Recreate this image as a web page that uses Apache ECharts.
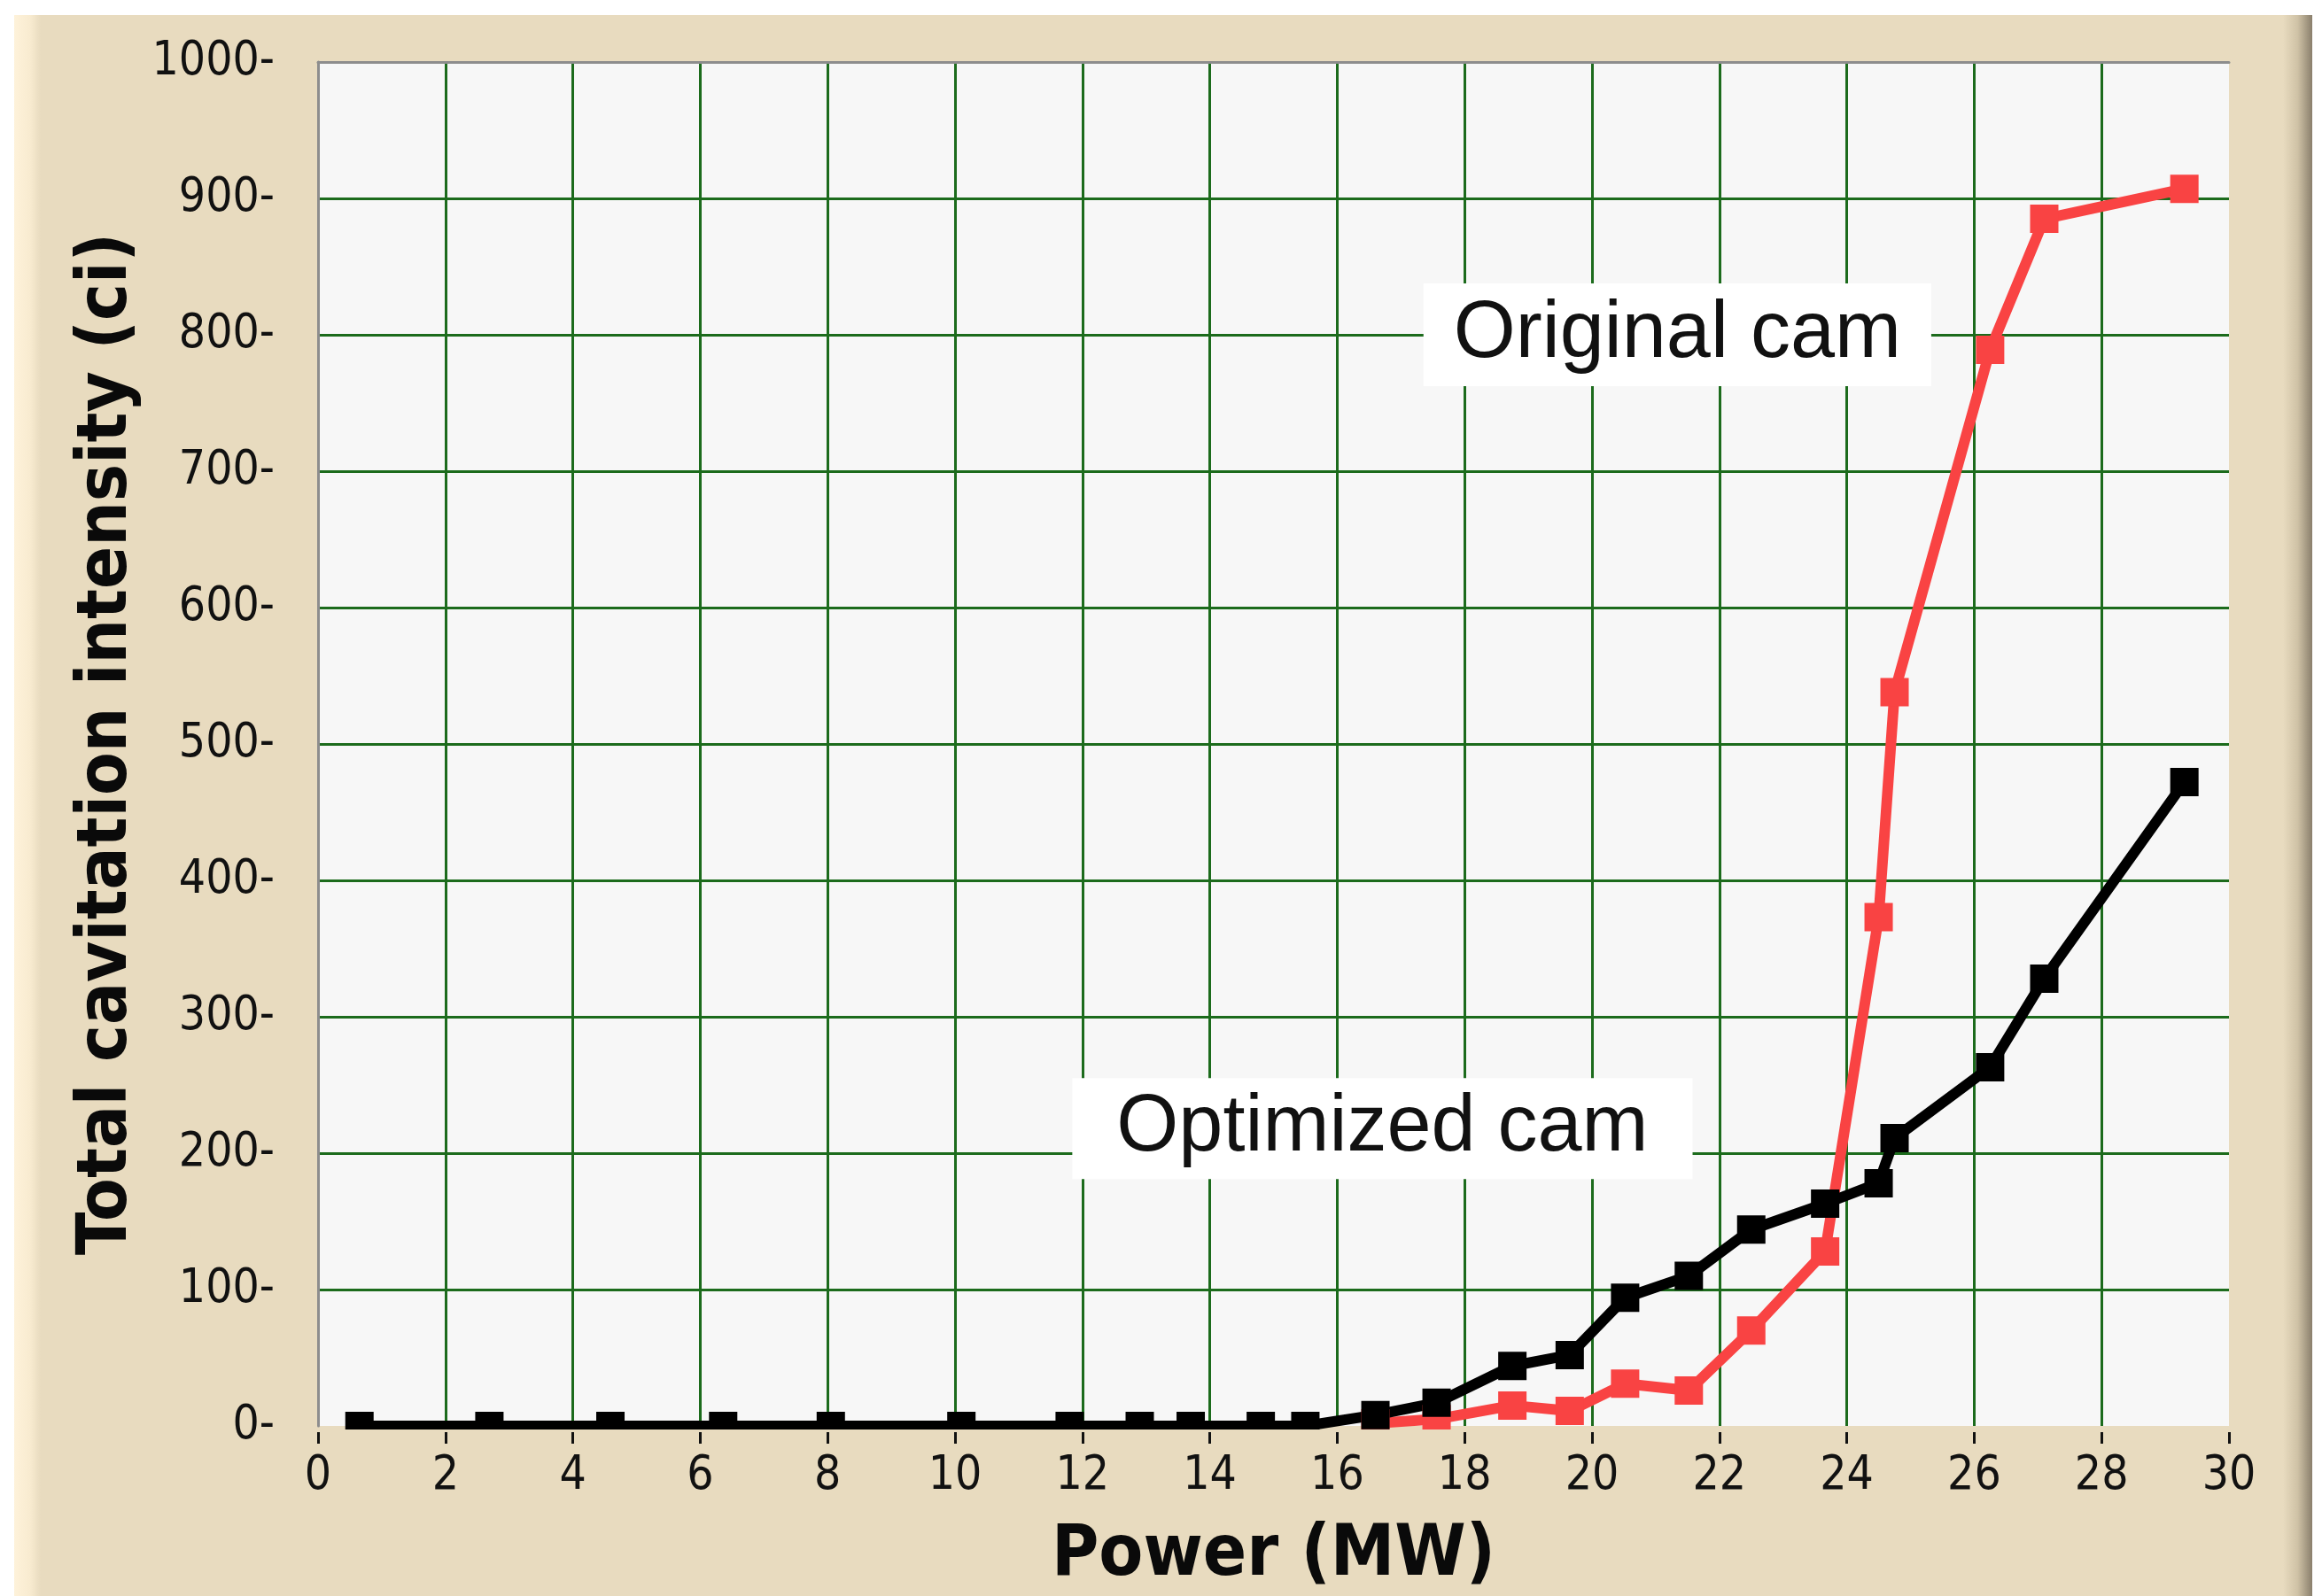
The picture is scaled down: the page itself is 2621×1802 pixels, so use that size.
<!DOCTYPE html>
<html><head><meta charset="utf-8">
<script src="https://cdn.jsdelivr.net/npm/echarts@6/dist/echarts.min.js"></script>
<style>html,body{margin:0;padding:0;background:#fff}#c{width:2621px;height:1802px}</style>
</head><body><div id="c"></div>
<script>
// ---- data ----
const power = [0.65, 2.69, 4.59, 6.36, 8.05, 10.1, 11.8, 12.9, 13.7, 14.8, 15.5, 16.6, 17.56, 18.75, 19.65, 20.52, 21.52, 22.5, 23.66, 24.5, 24.75, 26.25, 27.1, 29.3];
const optimizedCam = [0, 0, 0, 0, 0, 0, 0, 0, 0, 0, 0, 8, 17, 44, 52, 94, 110, 144, 163, 178, 211, 263, 328, 472];
const originalCam = [null, null, null, null, null, null, null, null, null, null, null, 2, 5, 15, 11, 31, 26, 70, 128, 373, 538, 789, 885, 907];
const xMin = 0, xMax = 30, xStep = 2;
const yMin = 0, yMax = 1000, yStep = 100;
const annotations = [
  { text: 'Original cam', x: 21.34, y: 800, pad: [8, 34] },
  { text: 'Optimized cam', x: 16.71, y: 218, pad: [7, 50] }
];

const TAN = '#E8DBBF';
const tickFont = "'DejaVu Sans Condensed', 'DejaVu Sans', sans-serif";

function pairs(vals) {
  const out = [];
  power.forEach((x, i) => { if (vals[i] !== null) out.push([x, vals[i]]); });
  return out;
}
function annot(a) {
  return {
    coord: [a.x, a.y], symbol: 'rect', symbolSize: 1,
    itemStyle: { color: 'rgba(0,0,0,0)' },
    label: {
      show: true, position: 'inside', formatter: a.text,
      fontFamily: "'Liberation Sans', Arial, sans-serif", fontSize: 90, lineHeight: 100,
      color: '#111', backgroundColor: '#ffffff', padding: a.pad
    }
  };
}

const chart = echarts.init(document.getElementById('c'), null, { renderer: 'canvas' });
const gridLine = { show: true, showMinLine: false, showMaxLine: false, lineStyle: { color: '#1c6b1c', width: 3 } };

chart.setOption({
  animation: false,
  backgroundColor: TAN,
  grid: { left: 359, top: 70, width: 2157, height: 1543, show: true, backgroundColor: '#F7F7F7', borderWidth: 0 },
  xAxis: [
    { type: 'value', min: xMin, max: xMax, interval: xStep, position: 'bottom', z: 0,
      axisLine: { show: false, onZero: false }, axisTick: { show: false }, axisLabel: { show: false }, splitLine: gridLine },
    { type: 'value', min: xMin, max: xMax, interval: xStep, position: 'bottom', offset: 7, z: 10,
      axisLine: { show: false, onZero: false },
      axisTick: { show: true, length: 13, lineStyle: { color: '#111', width: 3 } },
      axisLabel: { margin: 24, fontSize: 53, fontFamily: tickFont, color: '#111' },
      splitLine: { show: false },
      name: 'Power (MW)', nameLocation: 'middle', nameGap: 99,
      nameTextStyle: { fontSize: 81, fontWeight: 'bold', fontFamily: tickFont, color: '#0a0a0a' } },
    { type: 'value', min: xMin, max: xMax, position: 'top', z: 10,
      axisLine: { show: true, onZero: false, lineStyle: { color: '#8d8d8d', width: 3 } },
      axisTick: { show: false }, axisLabel: { show: false }, splitLine: { show: false } }
  ],
  yAxis: [
    { type: 'value', min: yMin, max: yMax, interval: yStep, position: 'left', z: 0,
      axisLine: { show: false, onZero: false }, axisTick: { show: false }, axisLabel: { show: false }, splitLine: gridLine },
    { type: 'value', min: yMin, max: yMax, interval: yStep, position: 'left', z: 10,
      axisLine: { show: true, onZero: false, lineStyle: { color: '#8d8d8d', width: 3 } },
      axisTick: { show: false },
      axisLabel: { margin: 49, fontSize: 53, fontFamily: tickFont, color: '#111', formatter: v => v + '-' },
      splitLine: { show: false },
      name: 'Total cavitation intensity (ci)', nameLocation: 'middle', nameGap: 193,
      nameTextStyle: { fontSize: 79, fontWeight: 'bold', fontFamily: tickFont, color: '#0a0a0a' } }
  ],
  series: [
    { name: 'Original cam', type: 'line', xAxisIndex: 0, yAxisIndex: 0, data: pairs(originalCam),
      symbol: 'rect', symbolSize: 32, showAllSymbol: true,
      lineStyle: { color: '#F94343', width: 12 }, itemStyle: { color: '#F94343' },
      markPoint: { silent: true, data: [annot(annotations[0])] } },
    { name: 'Optimized cam', type: 'line', xAxisIndex: 0, yAxisIndex: 0, data: pairs(optimizedCam),
      symbol: 'rect', symbolSize: 32, showAllSymbol: true,
      lineStyle: { color: '#000000', width: 12 }, itemStyle: { color: '#000000' },
      markPoint: { silent: true, data: [annot(annotations[1])] } }
  ],
  graphic: [
    { type: 'rect', z: 5, silent: true, shape: { x: 300, y: 1614, width: 2260, height: 40 }, style: { fill: TAN } },
    { type: 'rect', z: 1, silent: true, shape: { x: 0, y: 0, width: 2621, height: 17 }, style: { fill: '#ffffff' } },
    { type: 'rect', z: 1, silent: true, shape: { x: 0, y: 0, width: 16, height: 1802 }, style: { fill: '#ffffff' } },
    { type: 'rect', z: 1, silent: true, shape: { x: 16, y: 17, width: 30, height: 1785 },
      style: { fill: new echarts.graphic.LinearGradient(0, 0, 1, 0, [{ offset: 0, color: '#FEF2DA' }, { offset: 0.6, color: '#F8EBD0' }, { offset: 1, color: TAN }]) } },
    { type: 'rect', z: 1, silent: true, shape: { x: 2577, y: 17, width: 33, height: 1785 },
      style: { fill: new echarts.graphic.LinearGradient(0, 0, 1, 0, [{ offset: 0, color: TAN }, { offset: 0.5, color: '#CFC2A6' }, { offset: 1, color: '#8A7F6C' }]) } },
    { type: 'rect', z: 1, silent: true, shape: { x: 2610, y: 0, width: 11, height: 1802 }, style: { fill: '#ffffff' } }
  ]
});
</script></body></html>
